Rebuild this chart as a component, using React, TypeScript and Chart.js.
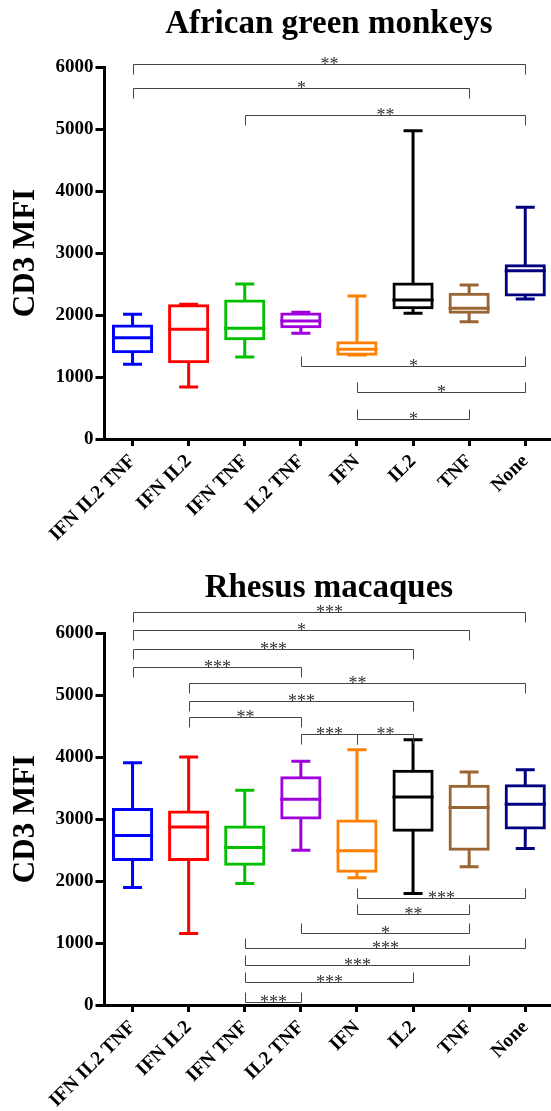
import React, { useEffect, useRef } from 'react';
import { Chart, registerables } from 'chart.js';

Chart.register(...registerables);

const FONT = "'Liberation Serif', 'Times New Roman', serif";

const CATEGORIES = ['IFN IL2 TNF', 'IFN IL2', 'IFN TNF', 'IL2 TNF', 'IFN', 'IL2', 'TNF', 'None'];
const COLORS = ['#0000FF', '#FF0000', '#00C000', '#A000DC', '#FF8000', '#000000', '#996633', '#000080'];
const Y_TICKS = [0, 1000, 2000, 3000, 4000, 5000, 6000];

// African green monkeys
const AGM_MIN = [1204, 839, 1323, 1704, 1355, 2027, 1892, 2258];
const AGM_Q1 = [1409, 1247, 1618, 1812, 1366, 2118, 2043, 2323];
const AGM_MEDIAN = [1634, 1769, 1785, 1903, 1446, 2242, 2108, 2715];
const AGM_Q3 = [1823, 2151, 2226, 2016, 1554, 2500, 2333, 2796];
const AGM_MAX = [2011, 2172, 2500, 2043, 2306, 4973, 2484, 3737];

const AGM_BR_FROM = [0, 0, 2, 3, 4, 4];
const AGM_BR_TO = [7, 6, 7, 7, 7, 6];
const AGM_BR_LEVEL = [6048, 5661, 5226, 1182, 763, 323];
const AGM_BR_LABEL = ['**', '*', '**', '*', '*', '*'];
const AGM_BR_DIR = ['down', 'down', 'down', 'up', 'up', 'up'];

// Rhesus macaques
const RM_MIN = [1895, 1154, 1960, 2497, 2051, 1799, 2228, 2523];
const RM_Q1 = [2346, 2346, 2271, 3017, 2158, 2819, 2513, 2856];
const RM_MEDIAN = [2733, 2872, 2540, 3318, 2486, 3356, 3184, 3238];
const RM_Q3 = [3152, 3114, 2872, 3667, 2969, 3769, 3528, 3538];
const RM_MAX = [3909, 4000, 3463, 3930, 4118, 4279, 3758, 3796];

const RM_BR_FROM = [0, 0, 0, 0, 1, 1, 1, 3, 4, 4, 4, 3, 2, 2, 2, 2];
const RM_BR_TO = [7, 6, 5, 3, 7, 5, 3, 4, 5, 7, 6, 6, 7, 6, 5, 3];
const RM_BR_LEVEL = [6333, 6048, 5737, 5446, 5188, 4903, 4640, 4366, 4376, 1731, 1463, 1166, 914, 645, 376, 48];
const RM_BR_LABEL = ['***', '*', '***', '***', '**', '***', '**', '***', '**', '***', '**', '*', '***', '***', '***', '***'];
const RM_BR_DIR = ['down', 'down', 'down', 'down', 'down', 'down', 'down', 'down', 'down', 'up', 'up', 'up', 'up', 'up', 'up', 'up'];

type Stats = { min: number[]; q1: number[]; median: number[]; q3: number[]; max: number[] };
type Brackets = { from: number[]; to: number[]; level: number[]; label: string[]; dir: string[] };

function boxPlugin(s: Stats) {
  return {
    id: 'boxWhiskers',
    beforeDatasetsDraw(chart: any) {
      const { ctx } = chart;
      const xs = chart.scales.x;
      const ys = chart.scales.y;
      ctx.save();
      ctx.lineWidth = 3;
      ctx.lineCap = 'butt';
      s.min.forEach((_, i) => {
        const cx = xs.getPixelForValue(i);
        const cap = 9.5;
        ctx.strokeStyle = COLORS[i];
        const yMax = ys.getPixelForValue(s.max[i]);
        const yMin = ys.getPixelForValue(s.min[i]);
        const yQ1 = ys.getPixelForValue(s.q1[i]);
        const yQ3 = ys.getPixelForValue(s.q3[i]);
        ctx.beginPath();
        ctx.moveTo(cx, yQ3);
        ctx.lineTo(cx, yMax);
        ctx.moveTo(cx - cap, yMax);
        ctx.lineTo(cx + cap, yMax);
        ctx.moveTo(cx, yQ1);
        ctx.lineTo(cx, yMin);
        ctx.moveTo(cx - cap, yMin);
        ctx.lineTo(cx + cap, yMin);
        ctx.stroke();
      });
      ctx.restore();
    },
    afterDatasetsDraw(chart: any) {
      const { ctx } = chart;
      const ys = chart.scales.y;
      const meta = chart.getDatasetMeta(0);
      ctx.save();
      ctx.lineWidth = 3;
      s.median.forEach((m, i) => {
        const bar = meta.data[i];
        const half = bar.width / 2 + 1.5;
        const yM = ys.getPixelForValue(m);
        ctx.strokeStyle = COLORS[i];
        ctx.beginPath();
        ctx.moveTo(bar.x - half, yM);
        ctx.lineTo(bar.x + half, yM);
        ctx.stroke();
      });
      ctx.restore();
    },
  };
}

function bracketPlugin(b: Brackets) {
  return {
    id: 'sigBrackets',
    afterDraw(chart: any) {
      const { ctx } = chart;
      const xs = chart.scales.x;
      const ys = chart.scales.y;
      ctx.save();
      ctx.strokeStyle = '#444';
      ctx.fillStyle = '#333';
      ctx.lineWidth = 1;
      ctx.font = `18px ${FONT}`;
      ctx.textAlign = 'center';
      ctx.textBaseline = 'alphabetic';
      b.from.forEach((f, k) => {
        const x1 = Math.round(xs.getPixelForValue(f)) + 0.5;
        const x2 = Math.round(xs.getPixelForValue(b.to[k])) + 0.5;
        const yl = Math.round(ys.getPixelForValue(b.level[k])) + 0.5;
        const t = b.dir[k] === 'down' ? 10 : -10;
        ctx.beginPath();
        ctx.moveTo(x1, yl + t);
        ctx.lineTo(x1, yl);
        ctx.lineTo(x2, yl);
        ctx.lineTo(x2, yl + t);
        ctx.stroke();
        ctx.fillText(b.label[k], (x1 + x2) / 2, yl + 5);
      });
      ctx.restore();
    },
  };
}

type Props = {
  title: string;
  stats: Stats;
  brackets: Brackets;
  height: number;
  plotTop: number;
  plotBottom: number;
  titlePadTop: number;
};

const CANVAS_W = 560;
const PLOT_LEFT = 104.5;
const PLOT_RIGHT = 553.3;

function BoxChart({ title, stats, brackets, height, plotTop, plotBottom, titlePadTop }: Props) {
  const ref = useRef<HTMLCanvasElement>(null);
  useEffect(() => {
    if (!ref.current) return;
    const titleSize = 33;
    const titleH = titleSize * 1.2;
    const chart = new Chart(ref.current, {
      type: 'bar',
      data: {
        labels: CATEGORIES,
        datasets: [
          {
            label: title,
            data: stats.q1.map((q, i) => [q, stats.q3[i]]),
            backgroundColor: '#ffffff',
            borderColor: COLORS,
            borderWidth: 3,
            borderSkipped: false,
            inflateAmount: 1.5,
            barPercentage: 0.68,
            categoryPercentage: 1,
          } as any,
        ],
      },
      options: {
        responsive: false,
        animation: false,
        layout: { padding: { left: 0, right: CANVAS_W - PLOT_RIGHT, top: 0, bottom: 0 } },
        plugins: {
          legend: { display: false },
          tooltip: { enabled: false },
          title: {
            display: true,
            text: title,
            fullSize: false,
            color: '#000',
            font: { family: FONT, size: titleSize, weight: 'bold', lineHeight: 1.2 },
            padding: { top: titlePadTop, bottom: plotTop - titlePadTop - titleH },
          },
        },
        scales: {
          x: {
            type: 'category',
            offset: true,
            grid: {
              offset: false,
              drawOnChartArea: false,
              drawTicks: true,
              tickLength: 7,
              tickWidth: 3,
              tickColor: '#000',
            },
            border: { display: true, color: '#000', width: 3 },
            ticks: {
              autoSkip: false,
              maxRotation: 45,
              minRotation: 45,
              padding: 4,
              color: '#000',
              font: { family: FONT, size: 19.5, weight: 'bold' },
            },
            afterFit: (scale: any) => {
              scale.height = height - plotBottom;
            },
          },
          y: {
            type: 'linear',
            min: 0,
            max: 6000,
            afterBuildTicks: (scale: any) => {
              scale.ticks = Y_TICKS.map((v) => ({ value: v }));
            },
            grid: {
              drawOnChartArea: false,
              drawTicks: true,
              tickLength: 9,
              tickWidth: 3,
              tickColor: '#000',
            },
            border: { display: true, color: '#000', width: 3 },
            ticks: {
              padding: 2,
              color: '#000',
              font: { family: FONT, size: 19, weight: 'bold' },
              callback: (v: any) => String(v),
            },
            title: {
              display: true,
              text: 'CD3 MFI',
              color: '#000',
              font: { family: FONT, size: 31, weight: 'bold', lineHeight: 1.2 },
              padding: { top: 7, bottom: 0 },
            },
            afterFit: (scale: any) => {
              scale.width = PLOT_LEFT;
            },
          },
        },
      } as any,
      plugins: [boxPlugin(stats), bracketPlugin(brackets)],
    });
    return () => chart.destroy();
  }, []);
  return (
    <canvas
      ref={ref}
      width={CANVAS_W}
      height={height}
      style={{ display: 'block', width: CANVAS_W, height }}
    />
  );
}

export default function App() {
  return (
    <div
      style={{
        position: 'absolute',
        left: 0,
        top: 0,
        width: 551,
        height: 1111,
        overflow: 'hidden',
        background: '#fff',
      }}
    >
      <BoxChart
        title="African green monkeys"
        stats={{ min: AGM_MIN, q1: AGM_Q1, median: AGM_MEDIAN, q3: AGM_Q3, max: AGM_MAX }}
        brackets={{ from: AGM_BR_FROM, to: AGM_BR_TO, level: AGM_BR_LEVEL, label: AGM_BR_LABEL, dir: AGM_BR_DIR }}
        height={555}
        plotTop={67}
        plotBottom={439}
        titlePadTop={5}
      />
      <BoxChart
        title="Rhesus macaques"
        stats={{ min: RM_MIN, q1: RM_Q1, median: RM_MEDIAN, q3: RM_Q3, max: RM_MAX }}
        brackets={{ from: RM_BR_FROM, to: RM_BR_TO, level: RM_BR_LEVEL, label: RM_BR_LABEL, dir: RM_BR_DIR }}
        height={556}
        plotTop={78}
        plotBottom={450}
        titlePadTop={14}
      />
    </div>
  );
}
